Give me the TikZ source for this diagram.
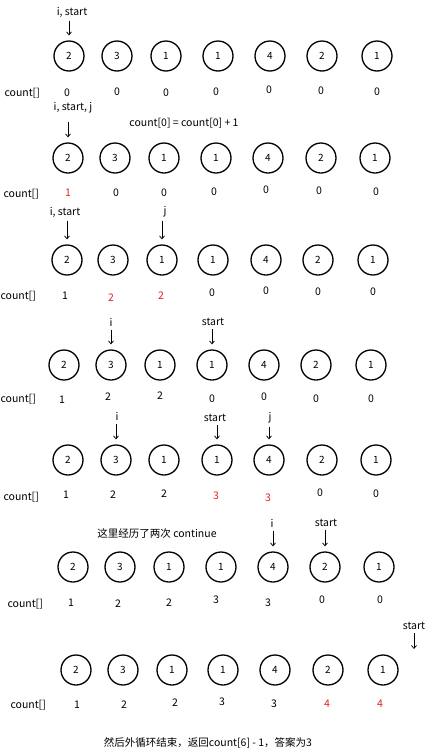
\documentclass[tikz,border=0pt]{standalone}
\usepackage{fontspec}
\usepackage{tikz}
\usetikzlibrary{arrows.meta}
\newfontfamily\cjk{Noto Sans CJK SC}
\definecolor{cntred}{RGB}{232,30,40}

\tikzset{
	cell/.style={draw, circle, line width=1.3pt, minimum size=30pt, inner sep=0pt, font=\cjk\fontsize{10}{12}\selectfont},
	cnt/.style={inner sep=1pt},
	ptr/.style={-{Straight Barb[length=3pt,width=5pt]}, line width=0.7pt, shorten <=0pt, shorten >=5pt},
}

\begin{document}
\begin{tikzpicture}[x=1pt, y=-1pt, every node/.append style={font=\cjk\fontsize{10.5}{12}\selectfont}]
	\useasboundingbox (0,0) rectangle (432,753);
	% row 1
	\foreach \x/\v [count=\k] in {69/2,117/3,166/1,218/1,270/4,322/2,377/1}
		\node[cell] (a\k) at (\x,56) {\v};
	\node[anchor=west] (la) at (1,93) {count[]};
	\foreach \x/\y/\v/\c [count=\k] in {67/93/0/black,117/92/0/black,166/93/0/black,216/92/0/black,269/90/0/black,321/91/0/black,377/92/0/black}
		\node[cnt,text=\c] (ca\k) at (\x,\y) {\v};
	\node (pa) at (72,12) {i, start};
	\draw[ptr] (pa.south -| a1) -- (a1.north);
	% row 2
	\foreach \x/\v [count=\k] in {68/2,115/3,164/1,216/1,268/4,321/2,375/1}
		\node[cell] (b\k) at (\x,158) {\v};
	\node[anchor=west] (lb) at (0,194) {count[]};
	\foreach \x/\y/\v/\c [count=\k] in {68/193/1/cntred,116/193/0/black,164/193/0/black,214/192/0/black,266/190/0/black,319/191/0/black,376/192/0/black}
		\node[cnt,text=\c] (cb\k) at (\x,\y) {\v};
	\node (pb) at (73,108) {i, start, j};
	\node (eq) at (184,123) {count[0] = count[0] + 1};
	\draw[ptr, shorten <=5pt] (pb.south -| b1) -- (b1.north);
	% row 3
	\foreach \x/\v [count=\k] in {67/2,113/3,162/1,213/1,266/4,318/2,373/1}
		\node[cell] (c\k) at (\x,260) {\v};
	\node[anchor=west] (lc) at (-3,296) {count[]};
	\foreach \x/\y/\v/\c [count=\k] in {65/296/1/black,111/298/2/cntred,161/296/2/cntred,212/293/0/black,266/291/0/black,318/292/0/black,373/292/0/black}
		\node[cnt,text=\c] (cc\k) at (\x,\y) {\v};
	\node (pc) at (65,212) {i, start};
	\node (qc) at (165,212) {j};
	\draw[ptr] (pc.south -| c1) -- (c1.north);
	\draw[ptr] (qc.south -| c3) -- (c3.north);
	% row 4
	\foreach \x/\v [count=\k] in {64/2,111/3,160/1,212/1,264/4,316/2,371/1}
		\node[cell] (d\k) at (\x,365) {\v};
	\node[anchor=west] (ld) at (-3,399) {count[]};
	\foreach \x/\y/\v/\c [count=\k] in {62/400/1/black,108/397/2/black,160/396/2/black,212/399/0/black,264/397/0/black,316/399/0/black,371/399/0/black}
		\node[cnt,text=\c] (cd\k) at (\x,\y) {\v};
	\node (pd) at (111,322) {i};
	\node (qd) at (213,322) {start};
	\draw[ptr] (pd.south -| d2) -- (d2.north);
	\draw[ptr] (qd.south -| d4) -- (d4.north);
	% row 5
	\foreach \x/\v [count=\k] in {68/2,116/3,164/1,217/1,269/4,322/2,376/1}
		\node[cell] (e\k) at (\x,460) {\v};
	\node[anchor=west] (le) at (0,497) {count[]};
	\foreach \x/\y/\v/\c [count=\k] in {66/495/1/black,113/495/2/black,164/494/2/black,216/496/3/cntred,268/498/3/cntred,320/493/0/black,376/494/0/black}
		\node[cnt,text=\c] (ce\k) at (\x,\y) {\v};
	\node (pe) at (117,416) {i};
	\node (qe) at (215,418) {start};
	\node (re) at (270,418) {j};
	\draw[ptr] (pe.south -| e2) -- (e2.north);
	\draw[ptr] (qe.south -| e4) -- (e4.north);
	\draw[ptr] (re.south -| e5) -- (e5.north);
	% row 6
	\foreach \x/\v [count=\k] in {73/2,120/3,169/1,221/1,273/4,325/2,379/1}
		\node[cell] (f\k) at (\x,567) {\v};
	\node[anchor=west] (lf) at (4,604) {count[]};
	\foreach \x/\y/\v/\c [count=\k] in {71/603/1/black,118/604/2/black,169/603/2/black,216/600/3/black,268/603/3/black,322/600/0/black,380/600/0/black}
		\node[cnt,text=\c] (cf\k) at (\x,\y) {\v};
	\node (note) at (157,533) {这里经历了两次 continue};
	\node (pf) at (272,523) {i};
	\node (qf) at (326,523) {start};
	\draw[ptr] (pf.south -| f5) -- (f5.north);
	\draw[ptr] (qf.south -| f6) -- (f6.north);
	% row 7
	\foreach \x/\v [count=\k] in {76/2,123/3,172/1,223/1,275/4,328/2,383/1}
		\node[cell] (g\k) at (\x,670) {\v};
	\node[anchor=west] (lg) at (7,705) {count[]};
	\foreach \x/\y/\v/\c [count=\k] in {77/705/1/black,124/705/2/black,175/703/2/black,222/702/3/black,274/704/3/black,327/704/4/cntred,380/704/4/cntred}
		\node[cnt,text=\c] (cg\k) at (\x,\y) {\v};
	\node (qg) at (414,626) {start};
	\coordinate (endg) at (414,649);
	\draw[ptr, shorten >=0pt] (qg.south) -- (endg);
	\node (res) at (208,743) {然后外循环结束，返回count[6] - 1，答案为3};
\end{tikzpicture}
\end{document}
